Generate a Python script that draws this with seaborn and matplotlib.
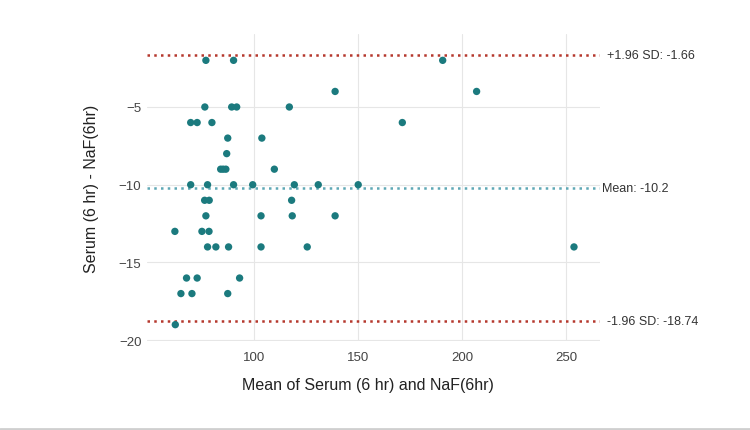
import matplotlib
matplotlib.use("Agg")
import matplotlib.pyplot as plt
import seaborn as sns
import pandas as pd
from matplotlib.lines import Line2D

# Data
mean_vals = [76.9, 90.2, 139.0, 76.4, 89.3, 91.7, 117.0, 69.6, 72.7, 79.8,
             87.4, 103.8, 86.9, 84.0, 85.2, 86.5, 109.8,
             69.6, 77.7, 90.2, 99.4, 119.4, 130.9, 150.1,
             190.7, 207.0, 171.3, 253.8,
             62.0, 75.0, 78.4, 76.3, 78.5, 76.9, 118.1, 103.4, 118.4, 139.0,
             77.7, 81.7, 87.8, 103.4, 125.6,
             67.6, 72.7, 93.1, 64.9, 70.2, 87.4, 62.2]
diff_vals = [-2, -2, -4, -5, -5, -5, -5, -6, -6, -6,
             -7, -7, -8, -9, -9, -9, -9,
             -10, -10, -10, -10, -10, -10, -10,
             -2, -4, -6, -14,
             -13, -13, -13, -11, -11, -12, -11, -12, -12, -12,
             -14, -14, -14, -14, -14,
             -16, -16, -16, -17, -17, -17, -19]
mean_diff = -10.2
upper_loa = -1.66
lower_loa = -18.74
x_ticks = [100, 150, 200, 250]
y_ticks = [-5, -10, -15, -20]

df = pd.DataFrame({"mean": mean_vals, "diff": diff_vals})

sns.set_theme(style="whitegrid")
plt.rcParams["font.family"] = ["Liberation Sans", "DejaVu Sans"]

fig = plt.figure(figsize=(7.5, 4.31), dpi=100)
ax = fig.add_axes([0.196, 0.2065, 0.604, 0.7125])

sns.scatterplot(data=df, x="mean", y="diff", ax=ax, color="#1b7a7e",
                s=28, edgecolor="none", zorder=3)

red = "#b5382d"
teal_line = "#5fa8b5"
ax.axhline(upper_loa, color=red, lw=1.8, ls=(0, (1, 1.7)), zorder=2)
ax.axhline(lower_loa, color=red, lw=1.8, ls=(0, (1, 1.7)), zorder=2)
ax.axhline(mean_diff, color=teal_line, lw=1.8, ls=(0, (1, 1.7)), zorder=2)

ax.set_xlim(48.6, 266.3)
ax.set_ylim(-20.05, -0.3)
ax.set_xticks(x_ticks)
ax.set_yticks(y_ticks)
ax.set_xticklabels([str(v) for v in x_ticks])
ax.set_yticklabels(["\u2212" + str(abs(v)) for v in y_ticks])
ax.tick_params(axis="both", labelsize=9.5, colors="#444444", length=0, pad=4)
ax.tick_params(axis="x", pad=7)
for s in ax.spines.values():
    s.set_visible(False)
ax.grid(True, color="#e6e6e6", lw=0.8)
ax.set_facecolor("white")

ax.set_xlabel("Mean of Serum (6 hr) and NaF(6hr)", fontsize=11.5,
              color="#222222", labelpad=11)
ax.xaxis.set_label_coords(0.487, -0.118)
ax.set_ylabel("Serum (6 hr) - NaF(6hr)", fontsize=11.5, color="#222222",
              labelpad=14)

trans = ax.get_yaxis_transform()
ax.text(1.015, upper_loa, "+1.96 SD: " + str(upper_loa), transform=trans,
        va="center", ha="left", fontsize=9, color="#333333")
ax.text(1.005, mean_diff, "Mean: " + str(mean_diff), transform=trans,
        va="center", ha="left", fontsize=9, color="#333333")
ax.text(1.015, lower_loa, "-1.96 SD: " + str(lower_loa), transform=trans,
        va="center", ha="left", fontsize=9, color="#333333")

fig.add_artist(Line2D([0, 1], [0.003, 0.003], transform=fig.transFigure,
                      color="#cfcfcf", lw=2))

fig.savefig("out.png", dpi=100, facecolor="white")
